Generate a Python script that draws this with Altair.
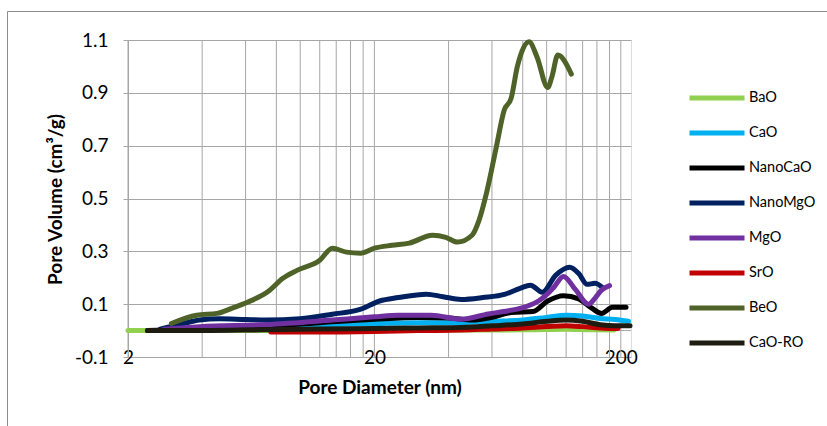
import altair as alt
import pandas as pd

# ---------------- data ----------------
series_names = ["BaO", "CaO", "NanoCaO", "NanoMgO", "MgO", "SrO", "BeO", "CaO-RO"]
series_colors = ["#92D050", "#00B0F0", "#000000", "#002060", "#7030A0", "#C00000", "#4F6228", "#1E1C11"]

bao_x = [2.0, 2.4, 3, 4, 6, 10, 20, 40, 60, 80, 100, 120, 150, 188]
bao_y = [0.0, 0.0, 0.0, 0.0, 0.0, 0.0, 0.001, 0.002, 0.002, 0.003, 0.004, 0.005, 0.003, 0.002]

cao_x = [2.4, 4.5, 7, 9, 12, 20, 30, 45, 60, 80, 100, 120, 140, 165, 190, 215]
cao_y = [0.0, 0.002, 0.01, 0.018, 0.022, 0.027, 0.03, 0.03, 0.035, 0.04, 0.05, 0.058, 0.055, 0.046, 0.042, 0.035]

nanocao_x = [2.4, 4, 7, 12, 20, 30, 40, 50, 60, 72, 88, 101, 117, 135, 152, 167, 185, 210]
nanocao_y = [0.0, 0.008, 0.015, 0.03, 0.043, 0.05, 0.048, 0.04, 0.05, 0.068, 0.072, 0.112, 0.132, 0.12, 0.086, 0.065, 0.088, 0.088]

nanomgo_x = [2.7, 3.3, 3.9, 4.7, 6, 7.3, 10, 13.5, 17.5, 21, 25, 32.5, 38, 45, 55, 68, 78, 86, 96, 109, 124, 135, 146, 157, 170]
nanomgo_y = [0.005, 0.025, 0.04, 0.045, 0.042, 0.04, 0.045, 0.062, 0.08, 0.112, 0.125, 0.138, 0.128, 0.118, 0.125, 0.138, 0.16, 0.172, 0.145, 0.21, 0.24, 0.216, 0.175, 0.179, 0.16]

mgo_x = [2.8, 3.9, 7.3, 13.5, 20, 25, 34, 45, 58, 70, 82, 93, 101, 107, 117, 131, 148, 157, 167, 180]
mgo_y = [0.005, 0.015, 0.023, 0.04, 0.052, 0.058, 0.058, 0.043, 0.063, 0.075, 0.09, 0.113, 0.14, 0.164, 0.205, 0.155, 0.1, 0.122, 0.153, 0.17]

sro_x = [7.6, 12, 20, 30, 45, 60, 80, 100, 120, 140, 165, 195]
sro_y = [-0.005, -0.005, -0.003, 0.0, 0.002, 0.006, 0.01, 0.015, 0.018, 0.015, 0.01, 0.008]

beo_x = [3.0, 3.8, 4.6, 5.3, 6.1, 7.5, 8.5, 9.7, 12, 13.5, 15.4, 17.6, 20, 23.6, 27.7, 34.4, 39, 43.4, 49.8, 53.2, 57, 62.5, 67.3, 71.8, 76, 84.8, 91.4, 101, 105, 111, 126]
beo_y = [0.027, 0.058, 0.065, 0.085, 0.107, 0.152, 0.198, 0.228, 0.266, 0.312, 0.297, 0.293, 0.312, 0.323, 0.331, 0.361, 0.353, 0.335, 0.361, 0.418, 0.52, 0.695, 0.835, 0.88, 0.998, 1.093, 1.036, 0.92, 0.96, 1.043, 0.971]

caoro_x = [2.4, 4, 7, 12, 20, 30, 45, 60, 80, 100, 120, 140, 165, 190, 218]
caoro_y = [0.0, 0.0, 0.003, 0.006, 0.008, 0.01, 0.012, 0.018, 0.025, 0.035, 0.04, 0.035, 0.022, 0.018, 0.018]

x_tick_values = [2, 20, 200]
x_grid_values = [2, 4, 6, 8, 10, 12, 14, 16, 18, 20, 40, 60, 80, 100, 120, 140, 160, 180, 200]
y_tick_values = [-0.1, 0.1, 0.3, 0.5, 0.7, 0.9, 1.1]
x_domain = [2, 220]
y_domain = [-0.1, 1.1]

# ---------------- table ----------------
all_series = [
    ("BaO", bao_x, bao_y), ("CaO", cao_x, cao_y), ("NanoCaO", nanocao_x, nanocao_y),
    ("NanoMgO", nanomgo_x, nanomgo_y), ("MgO", mgo_x, mgo_y), ("SrO", sro_x, sro_y),
    ("BeO", beo_x, beo_y), ("CaO-RO", caoro_x, caoro_y),
]
rows = []
for name, xs, ys in all_series:
    for xv, yv in zip(xs, ys):
        rows.append({"series": name, "d": xv, "v": yv})
df = pd.DataFrame(rows)

FONT = "Lato"
GRID = "#A6A6A6"
W, H = 503, 317
PAD = {"left": 128, "top": 40, "right": 827 - 128 - W, "bottom": 426 - 40 - H}

xscale = alt.Scale(type="log", domain=x_domain, nice=False)
yscale = alt.Scale(domain=y_domain, nice=False, zero=False)

XTITLE = "Pore Diameter (nm)"
YTITLE = "Pore Volume (cm³/g)"

xaxis = alt.Axis(values=x_tick_values, grid=False, domain=False, ticks=False,
                 tickSize=0, labelPadding=0, labelBaseline="middle",
                 labelFont=FONT, labelFontSize=19, labelColor="black",
                 labelFlush=False,
                 titleFont=FONT, titleFontSize=19, titleFontWeight="bold",
                 titleColor="black", titleX=W / 2, titleY=30,
                 titleBaseline="middle")
yaxis = alt.Axis(values=y_tick_values, grid=True, gridColor=GRID, gridWidth=1,
                 domain=True, domainColor=GRID, ticks=True, tickColor=GRID,
                 tickSize=5, labelPadding=15,
                 labelExpr="datum.value < 0 ? '-' + format(-datum.value, '.1f') : format(datum.value, '.1f')",
                 labelFont=FONT, labelFontSize=19, labelColor="black",
                 labelFlush=False,
                 titleFont=FONT, titleFontSize=19, titleFontWeight="bold",
                 titleColor="black", titleX=-73, titleY=H / 2 + 0.5,
                 titleBaseline="middle")

frame = alt.Chart(pd.DataFrame({"a": [0]})).mark_rect(
    filled=False, stroke="#8C8C8C", strokeWidth=1
).encode(x=alt.value(-120.5), x2=alt.value(900), y=alt.value(-28.5), y2=alt.value(600))

xgrid = alt.Chart(pd.DataFrame({"d": x_grid_values})).mark_rule(
    color=GRID, strokeWidth=1
).encode(x=alt.X("d:Q", scale=xscale, title=XTITLE, axis=xaxis))

zero_line = alt.Chart(pd.DataFrame({"v": [0.0]})).mark_rule(
    color=GRID, strokeWidth=1
).encode(y=alt.Y("v:Q", scale=yscale, title=YTITLE, axis=yaxis))

lines = alt.Chart(df).mark_line(
    strokeWidth=5, interpolate="monotone", strokeCap="round", strokeJoin="round"
).encode(
    x=alt.X("d:Q", scale=xscale, title=XTITLE, axis=xaxis),
    y=alt.Y("v:Q", scale=yscale, title=YTITLE, axis=yaxis),
    color=alt.Color("series:N", scale=alt.Scale(domain=series_names, range=series_colors),
                    sort=series_names,
                    legend=alt.Legend(title=None, orient="none", legendX=559, legendY=40.5,
                                      symbolType="stroke", symbolSize=3025,
                                      symbolStrokeWidth=5, clipHeight=35, rowPadding=0,
                                      labelFont=FONT, labelFontSize=14.5, labelColor="black",
                                      labelOffset=2, padding=0)),
)

chart = alt.layer(frame, xgrid, zero_line, lines).properties(
    width=W, height=H,
    autosize=alt.AutoSizeParams(type="none"),
    padding=PAD,
).configure_view(stroke=GRID, strokeWidth=1).configure(background="white")

chart.save("out.html", embed_options={"renderer": "svg", "actions": False})
